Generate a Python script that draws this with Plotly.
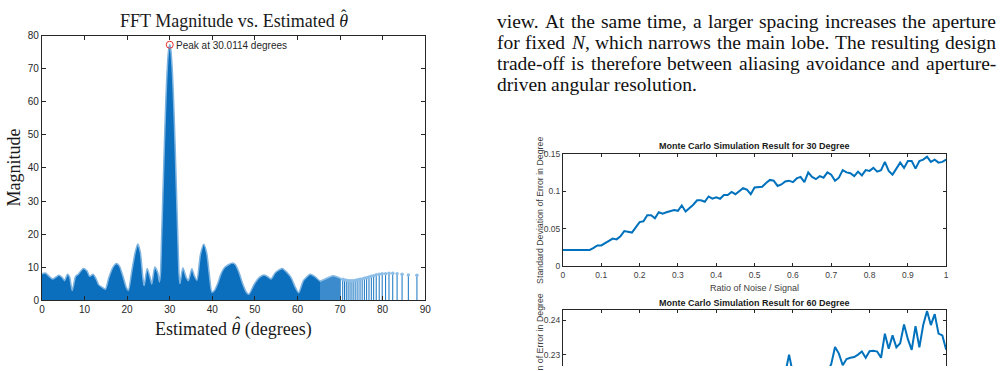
import plotly.graph_objects as go

W, H = 1007, 371

# ---------------- data: FFT magnitude (envelope of dense stems)
fft_env_deg = [0.0, 0.8, 1.7, 2.5, 3.3, 4.0, 4.8, 5.3, 6.0, 6.5, 7.1, 7.9, 8.5, 9.7, 10.6, 11.2, 12.0,
               12.7, 13.3, 14.1, 14.9, 15.7, 16.7, 17.5, 18.2, 19.0, 19.8, 20.3, 21.1, 21.9, 22.5,
               23.1, 23.7, 24.0, 24.7, 25.4, 25.8, 26.5, 27.2, 27.6,
               27.85, 28.08, 28.32, 28.56, 28.8, 29.04, 29.28, 29.52, 29.76, 30.01, 30.25, 30.49,
               30.73, 30.97, 31.21, 31.45, 31.69, 31.93, 32.17,
               32.4, 33.1, 33.9, 34.4, 35.2, 35.8, 36.4, 37.2, 38.0, 38.7, 39.3, 39.9, 40.5, 41.3,
               42.0, 43.0, 44.6, 45.4, 46.3, 47.1, 48.0, 48.6, 49.8, 51.0, 52.1, 52.9, 53.8, 54.8,
               56.4, 57.6, 58.5, 59.5, 60.3, 61.4, 63.0, 64.2, 65.3, 66.5, 68.3, 69.4, 70.2]
fft_env_mag = [8.0, 8.2, 7.2, 6.4, 7.0, 7.5, 6.8, 5.9, 7.8, 7.0, 2.9, 7.2, 7.8, 9.6, 8.8, 7.2, 7.8,
               6.5, 4.7, 3.9, 3.3, 6.8, 10.0, 11.1, 10.3, 7.3, 3.9, 2.9, 8.8, 14.5, 17.0,
               14.5, 6.8, 4.4, 9.6, 6.8, 4.9, 10.0, 8.3, 5.5,
               8.4, 18.1, 28.5, 39.0, 49.2, 58.5, 66.3, 72.3, 76.0, 77.3, 76.0, 72.3,
               66.3, 58.5, 49.2, 39.0, 28.5, 18.1, 8.4,
               5.0, 9.8, 6.8, 5.9, 9.5, 7.3, 6.0, 13.7, 16.9, 14.2, 7.8, 2.4, 2.9, 5.1,
               7.8, 10.0, 11.2, 10.8, 8.3, 5.1, 2.4, 1.8, 4.7, 6.8, 7.6, 7.2, 6.4, 8.3,
               9.6, 8.3, 6.8, 3.9, 2.2, 5.9, 7.8, 7.0, 5.7, 6.4, 7.4, 7.0, 6.5]

# separated stems near endfire
stem_deg = [70.63, 71.05, 71.47, 71.9, 72.35, 72.8, 73.25, 73.72, 74.2, 74.7, 75.2, 75.72,
            76.25, 76.8, 77.35, 77.9, 78.5, 79.2, 79.9, 80.7, 81.5, 82.38, 83.4, 84.57, 86.04, 88.06]
stem_mag = [6.3, 6.1, 6.0, 5.9, 5.85, 5.85, 5.9, 6.0, 6.15, 6.3, 6.4, 6.6,
            6.8, 7.0, 7.2, 7.4, 7.7, 7.85, 7.95, 8.0, 8.1, 8.1, 8.0, 7.8, 7.6, 7.5]

peak_deg = [30.0114]
peak_mag = [77.3]

fft_xticks = [0, 10, 20, 30, 40, 50, 60, 70, 80, 90]
fft_yticks = [0, 10, 20, 30, 40, 50, 60, 70, 80]

# ---------------- data: Monte Carlo
mc_ratio = [0.00, 0.01, 0.02, 0.03, 0.04, 0.05, 0.06, 0.07, 0.08, 0.09,
            0.10, 0.11, 0.12, 0.13, 0.14, 0.15, 0.16, 0.17, 0.18, 0.19,
            0.20, 0.21, 0.22, 0.23, 0.24, 0.25, 0.26, 0.27, 0.28, 0.29,
            0.30, 0.31, 0.32, 0.33, 0.34, 0.35, 0.36, 0.37, 0.38, 0.39,
            0.40, 0.41, 0.42, 0.43, 0.44, 0.45, 0.46, 0.47, 0.48, 0.49,
            0.50, 0.51, 0.52, 0.53, 0.54, 0.55, 0.56, 0.57, 0.58, 0.59,
            0.60, 0.61, 0.62, 0.63, 0.64, 0.65, 0.66, 0.67, 0.68, 0.69,
            0.70, 0.71, 0.72, 0.73, 0.74, 0.75, 0.76, 0.77, 0.78, 0.79,
            0.80, 0.81, 0.82, 0.83, 0.84, 0.85, 0.86, 0.87, 0.88, 0.89,
            0.90, 0.91, 0.92, 0.93, 0.94, 0.95, 0.96, 0.97, 0.98, 0.99, 1.00]
mc30_std = [0.022, 0.022, 0.022, 0.022, 0.022, 0.022, 0.022, 0.022, 0.0246, 0.028,
            0.028, 0.031, 0.033, 0.037, 0.036, 0.040, 0.047, 0.046, 0.045, 0.052,
            0.059, 0.060, 0.068, 0.068, 0.064, 0.072, 0.070, 0.072, 0.074, 0.075,
            0.074, 0.081, 0.073, 0.077, 0.082, 0.088, 0.088, 0.086, 0.093, 0.090,
            0.092, 0.090, 0.095, 0.095, 0.099, 0.096, 0.100, 0.104, 0.102, 0.096,
            0.105, 0.105, 0.106, 0.111, 0.115, 0.114, 0.107, 0.109, 0.113, 0.114,
            0.112, 0.117, 0.119, 0.112, 0.125, 0.119, 0.116, 0.120, 0.118, 0.125,
            0.122, 0.114, 0.118, 0.128, 0.125, 0.124, 0.120, 0.126, 0.121, 0.128,
            0.127, 0.131, 0.126, 0.128, 0.139, 0.127, 0.122, 0.130, 0.138, 0.131,
            0.140, 0.140, 0.130, 0.140, 0.142, 0.146, 0.139, 0.142, 0.138, 0.139, 0.142]

mc60_ratio = [0.50, 0.51, 0.52, 0.53, 0.54, 0.55, 0.56, 0.57, 0.58, 0.59,
              0.60, 0.61, 0.62, 0.63, 0.64, 0.65, 0.66, 0.67, 0.68, 0.69,
              0.70, 0.71, 0.72, 0.73, 0.74, 0.75, 0.76, 0.77, 0.78, 0.79,
              0.80, 0.81, 0.82, 0.83, 0.84, 0.85, 0.86, 0.87, 0.88, 0.89,
              0.90, 0.91, 0.92, 0.93, 0.94, 0.95, 0.96, 0.97, 0.98, 0.99, 1.00]
mc60_std = [0.2220, 0.2210, 0.2230, 0.2220, 0.2240, 0.2230, 0.2220, 0.2230, 0.2245, 0.2300,
            0.2245, 0.2230, 0.2240, 0.2235, 0.2245, 0.2240, 0.2250, 0.2245, 0.2255, 0.2250,
            0.2272, 0.2322, 0.2303, 0.2269, 0.2287, 0.2291, 0.2293, 0.2300, 0.2309, 0.2291,
            0.2310, 0.2311, 0.2309, 0.2291, 0.2361, 0.2317, 0.2356, 0.2321, 0.2333, 0.2388,
            0.2345, 0.2314, 0.2383, 0.2321, 0.2386, 0.2427, 0.2386, 0.2418, 0.2361, 0.2356, 0.2314]

mc_xticks = [0, 0.1, 0.2, 0.3, 0.4, 0.5, 0.6, 0.7, 0.8, 0.9, 1]
mc_xlabels = ["0", "0.1", "0.2", "0.3", "0.4", "0.5", "0.6", "0.7", "0.8", "0.9", "1"]
mc30_yticks = [0, 0.05, 0.1, 0.15]
mc30_ylabels = ["0", "0.05", "0.1", "0.15"]
mc60_yticks = [0.23, 0.24]
mc60_ylabels = ["0.23", "0.24"]

para_lines = [
    ["view.", "At", "the", "same", "time,", "a", "larger", "spacing", "increases", "the", "aperture"],
    ["for", "fixed", "<i>N</i>,", "which", "narrows", "the", "main", "lobe.", "The", "resulting", "design"],
    ["trade-off", "is", "therefore", "between", "aliasing", "avoidance", "and", "aperture-"],
    ["driven", "angular", "resolution."],
]

# ---------------- helpers (layout only)
def px(x):
    return x / W

def py(y):
    return 1 - y / H

SERIF = "Liberation Serif, Times New Roman, serif"
SANS = "Liberation Sans, Arial, Helvetica, sans-serif"
AX = "#262626"
BLUE = "#0072BD"

fig = go.Figure()

# FFT dense stems drawn as their envelope fill (solid part, then the thinning part)
split = fft_env_deg.index(65.3)
fig.add_trace(go.Scatter(x=fft_env_deg[split:], y=fft_env_mag[split:], mode="lines", fill="tozeroy",
                         fillcolor="#3c8ccd",
                         line=dict(color="#8cbde6", width=1.5, shape="spline", smoothing=0.6),
                         xaxis="x", yaxis="y", hoverinfo="skip"))
fig.add_trace(go.Scatter(x=fft_env_deg[:split + 1], y=fft_env_mag[:split + 1], mode="lines",
                         fill="tozeroy", fillcolor="#0c6fbd",
                         line=dict(color="#7fb4e0", width=1.5, shape="spline", smoothing=0.6),
                         xaxis="x", yaxis="y", hoverinfo="skip"))
# sparse stems
sx, sy = [], []
for d, m in zip(stem_deg, stem_mag):
    sx += [d, d, None]
    sy += [0, m, None]
fig.add_trace(go.Scatter(x=sx, y=sy, mode="lines", line=dict(color="#1574c2", width=1),
                         xaxis="x", yaxis="y", hoverinfo="skip"))
fig.add_trace(go.Scatter(x=stem_deg, y=stem_mag, mode="markers",
                         marker=dict(symbol="circle", size=3.5, color="#8cbde6"),
                         xaxis="x", yaxis="y", hoverinfo="skip"))
fig.add_trace(go.Scatter(x=peak_deg, y=peak_mag, mode="markers",
                         marker=dict(symbol="circle-open", size=7, color="#e8302a", line=dict(width=1)),
                         xaxis="x", yaxis="y", hoverinfo="skip"))

# Monte Carlo
fig.add_trace(go.Scatter(x=mc_ratio, y=mc30_std, mode="lines", line=dict(color=BLUE, width=2),
                         xaxis="x2", yaxis="y2", hoverinfo="skip"))
fig.add_trace(go.Scatter(x=mc60_ratio, y=mc60_std, mode="lines", line=dict(color=BLUE, width=2),
                         xaxis="x3", yaxis="y3", hoverinfo="skip"))

common = dict(showgrid=False, zeroline=False, showline=True, linecolor=AX, linewidth=1,
              ticks="inside", tickcolor=AX, tickwidth=1)

fig.update_layout(
    width=W, height=H, margin=dict(l=0, r=0, t=0, b=0),
    paper_bgcolor="white", plot_bgcolor="white", showlegend=False,
    xaxis=dict(domain=[px(39.3), px(426)], range=[0, 90], tickvals=fft_xticks, mirror="ticks",
               ticklen=4, anchor="y", tickfont=dict(family=SANS, size=10, color=AX), **common),
    yaxis=dict(domain=[py(303.3), py(31.7)], range=[0, 80], tickvals=fft_yticks, mirror="ticks",
               ticklen=4, anchor="x", tickfont=dict(family=SANS, size=10, color=AX), **common),
    xaxis2=dict(domain=[px(565), px(951.7)], range=[0, 1], tickvals=mc_xticks, ticktext=mc_xlabels,
                mirror="ticks", ticklen=3, anchor="y2",
                tickfont=dict(family=SANS, size=8.5, color="#404040"), **common),
    yaxis2=dict(domain=[py(268.7), py(152.7)], range=[0, 0.15], tickvals=mc30_yticks,
                ticktext=mc30_ylabels, mirror="ticks", ticklen=3, anchor="x2",
                tickfont=dict(family=SANS, size=8.5, color="#404040"), **common),
    xaxis3=dict(domain=[px(565), px(951.7)], range=[0, 1], tickvals=mc_xticks, side="top",
                showticklabels=False, ticklen=3, anchor="y3", **common),
    yaxis3=dict(domain=[0, py(313.7)], range=[0.22669, 0.24292], tickvals=mc60_yticks,
                ticktext=mc60_ylabels, mirror="ticks", ticklen=3, anchor="x3",
                tickfont=dict(family=SANS, size=8.5, color="#404040"), **common),
)

ann = []
def text(x, y, s, size, family=SANS, color="#222", xanchor="center", yanchor="middle", angle=0):
    ann.append(dict(x=px(x), y=py(y), xref="paper", yref="paper", text=s, showarrow=False,
                    xanchor=xanchor, yanchor=yanchor, textangle=angle, borderpad=0,
                    font=dict(family=family, size=size, color=color)))

# FFT chart texts (hat accents placed over the italic theta)
text(232.6, 16.5, "FFT Magnitude vs. Estimated <i>θ</i>", 18, SERIF, "#1a1a1a")
text(344.0, 10.5, "ˆ", 16, SERIF, "#1a1a1a")
text(12, 167, "Magnitude", 18, SERIF, "#1a1a1a", angle=-90)
text(232.6, 333, "Estimated <i>θ</i> (degrees)", 18, SERIF, "#1a1a1a")
text(236.8, 326.5, "ˆ", 16, SERIF, "#1a1a1a")
text(173.5, 41.2, "Peak at 30.0114 degrees", 10, SANS, "#262626", xanchor="left")

# Monte Carlo texts
text(758.3, 145, "<b>Monte Carlo Simulation Result for 30 Degree</b>", 9, SANS, "#1a1a1a")
text(758.3, 290.7, "Ratio of Noise / Signal", 9, SANS, "#404040")
text(541.7, 210.7, "Standard Deviation of Error in Degree", 8.8, SANS, "#404040", angle=-90)
text(758.3, 306, "<b>Monte Carlo Simulation Result for 60 Degree</b>", 9, SANS, "#1a1a1a")
text(541.7, 371.6, "Standard Deviation of Error in Degree", 8.8, SANS, "#404040", angle=-90)

# paragraph, justified word by word (Times metrics)
TW = {' ': 250, 'a': 444, 'b': 500, 'c': 444, 'd': 500, 'e': 444, 'f': 333, 'g': 500, 'h': 500,
      'i': 278, 'j': 278, 'k': 500, 'l': 278, 'm': 778, 'n': 500, 'o': 500, 'p': 500, 'q': 500,
      'r': 333, 's': 389, 't': 278, 'u': 500, 'v': 500, 'w': 722, 'x': 500, 'y': 500, 'z': 444,
      'A': 722, 'N': 667, 'T': 611, '.': 250, ',': 250, '-': 333}
FS = 19.5
LEFT, RIGHT = 497.0, 1000.5
baselines = [23.3, 45.0, 66.7, 88.3]

def wwidth(w):
    w = w.replace("<i>", "").replace("</i>", "")
    return sum(TW.get(c, 500) for c in w) * FS / 1000.0

for li, words in enumerate(para_lines):
    widths = [wwidth(w) for w in words]
    if li < 3:
        gap = (RIGHT - LEFT - sum(widths)) / (len(words) - 1)
    else:
        gap = TW[' '] * FS / 1000.0
    x = LEFT
    yc = baselines[li] - 0.32 * FS
    for w, wd in zip(words, widths):
        text(x, yc, w, FS, SERIF, "#111", xanchor="left")
        x += wd + gap

fig.update_layout(annotations=ann)
fig.write_html("out.html", config={"displayModeBar": False})
